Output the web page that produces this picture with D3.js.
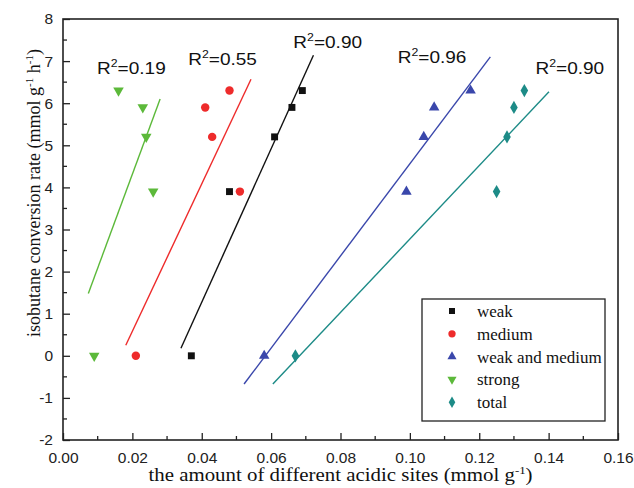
<!DOCTYPE html>
<html>
<head>
<meta charset="utf-8">
<script src="https://cdn.jsdelivr.net/npm/d3@7"></script>
<style>
  body { margin: 0; background: #fff; }
  svg { display: block; }
  .tick text { font-family: "Liberation Sans", Arial, sans-serif; font-size: 15.5px; fill: #222; }
</style>
</head>
<body>
<svg id="chart" width="634" height="488"></svg>
<script>
// Conversion rates shared by every series
const rates = [0, 3.9, 5.2, 5.9, 6.3];

// Acid site amounts (mmol/g) per series
const weakX = [0.037, 0.048, 0.061, 0.066, 0.069];
const mediumX = [0.021, 0.051, 0.043, 0.041, 0.048];
const weakMediumX = [0.058, 0.099, 0.104, 0.107, 0.1175];
const strongX = [0.009, 0.026, 0.024, 0.023, 0.016];
const totalX = [0.067, 0.125, 0.128, 0.130, 0.133];

// Linear fit end points [[x1, y1], [x2, y2]]
const weakFit = [[0.034, 0.18], [0.0722, 7.14]];
const mediumFit = [[0.0181, 0.25], [0.0542, 6.57]];
const weakMediumFit = [[0.0522, -0.67], [0.1232, 7.1]];
const strongFit = [[0.0073, 1.48], [0.028, 6.1]];
const totalFit = [[0.0605, -0.67], [0.1401, 6.27]];

// R squared labels and their anchor (data coords)
const r2Labels = ['0.90', '0.55', '0.96', '0.19', '0.90'];
const r2Pos = [[0.0664, 7.3], [0.0361, 6.9], [0.0965, 6.95], [0.0098, 6.7], [0.1362, 6.7]];

const seriesNames = ['weak', 'medium', 'weak and medium', 'strong', 'total'];
const xTicks = [0, 0.02, 0.04, 0.06, 0.08, 0.10, 0.12, 0.14, 0.16];
const yTicks = [-2, -1, 0, 1, 2, 3, 4, 5, 6, 7, 8];

(function() {
  const svg = d3.select('#chart');
  const margin = { top: 19, right: 16, bottom: 48, left: 63 };
  const width = 634 - margin.left - margin.right;
  const height = 488 - margin.top - margin.bottom;
  const serif = '"Liberation Serif", "Times New Roman", serif';
  const sans = '"Liberation Sans", Arial, sans-serif';

  const x = d3.scaleLinear().domain([0, 0.16]).range([0, width]);
  const y = d3.scaleLinear().domain([-2, 8]).range([height, 0]);

  const g = svg.append('g').attr('transform', `translate(${margin.left},${margin.top})`);

  const series = [
    { name: seriesNames[0], xs: weakX, fit: weakFit, color: '#111111', shape: d3.symbolSquare, size: 48, rot: 0 },
    { name: seriesNames[1], xs: mediumX, fit: mediumFit, color: '#ee2b2b', shape: d3.symbolCircle, size: 56, rot: 0 },
    { name: seriesNames[2], xs: weakMediumX, fit: weakMediumFit, color: '#3a47ab', shape: d3.symbolTriangle, size: 48, rot: 0 },
    { name: seriesNames[3], xs: strongX, fit: strongFit, color: '#5cb93a', shape: d3.symbolTriangle, size: 48, rot: 180 },
    { name: seriesNames[4], xs: totalX, fit: totalFit, color: '#1d8b87', shape: d3.symbolDiamond, size: 50, rot: 0 }
  ];
  const fitOrder = [3, 1, 0, 2, 4];

  // Axes with inward ticks
  const xAxis = d3.axisBottom(x).tickValues(xTicks).tickFormat(d3.format('.2f')).tickSizeInner(-7).tickSizeOuter(0).tickPadding(12);
  const yAxis = d3.axisLeft(y).tickValues(yTicks).tickFormat(d => String(d)).tickSizeInner(-7).tickSizeOuter(0).tickPadding(10);

  const gx = g.append('g').attr('transform', `translate(0,${height})`).call(xAxis);
  const gy = g.append('g').call(yAxis);
  [gx, gy].forEach(a => {
    a.select('.domain').remove();
    a.selectAll('.tick line').attr('stroke', '#222').attr('stroke-width', 1.3);
  });

  // Minor ticks
  g.append('g').selectAll('line')
    .data(d3.range(0.01, 0.16, 0.02))
    .enter().append('line')
    .attr('x1', d => x(d)).attr('x2', d => x(d))
    .attr('y1', height).attr('y2', height - 4)
    .attr('stroke', '#222').attr('stroke-width', 1.3);
  g.append('g').selectAll('line')
    .data(d3.range(-1.5, 8, 1))
    .enter().append('line')
    .attr('x1', 0).attr('x2', 4)
    .attr('y1', d => y(d)).attr('y2', d => y(d))
    .attr('stroke', '#222').attr('stroke-width', 1.3);

  // Frame
  g.append('rect')
    .attr('width', width).attr('height', height)
    .attr('fill', 'none').attr('stroke', '#222').attr('stroke-width', 1.6);

  // Fit lines
  fitOrder.forEach(i => {
    const s = series[i];
    g.append('line')
      .attr('x1', x(s.fit[0][0])).attr('y1', y(s.fit[0][1]))
      .attr('x2', x(s.fit[1][0])).attr('y2', y(s.fit[1][1]))
      .attr('stroke', s.color).attr('stroke-width', 1.4);
  });

  // Points
  series.forEach(s => {
    g.append('g').selectAll('path')
      .data(s.xs.map((v, k) => [v, rates[k]]))
      .enter().append('path')
      .attr('d', d3.symbol().type(s.shape).size(s.size))
      .attr('transform', d => `translate(${x(d[0])},${y(d[1])}) rotate(${s.rot})`)
      .attr('fill', s.color);
  });

  // R^2 labels (slightly wide lettering, like the original scan)
  r2Labels.forEach((lab, i) => {
    const t = g.append('text')
      .attr('transform', `translate(${x(r2Pos[i][0])},${y(r2Pos[i][1])}) scale(1.12,1)`)
      .style('font-family', sans).style('font-size', '17px').attr('fill', '#111');
    t.append('tspan').text('R');
    t.append('tspan').attr('dy', -7).style('font-size', '11px').text('2');
    t.append('tspan').attr('dy', 7).text('=' + lab);
  });

  // Legend
  const lg = svg.append('g').attr('transform', 'translate(422,299)');
  lg.append('rect').attr('width', 183).attr('height', 122)
    .attr('fill', '#fff').attr('stroke', '#222').attr('stroke-width', 1.3);
  series.forEach((s, i) => {
    const row = lg.append('g').attr('transform', `translate(0,${12 + i * 22.8})`);
    row.append('path')
      .attr('d', d3.symbol().type(s.shape).size(s.size * 0.75))
      .attr('transform', `translate(30,0) rotate(${s.rot})`)
      .attr('fill', s.color);
    row.append('text')
      .attr('x', 55).attr('y', 6)
      .style('font-family', serif)
      .style('font-size', '17px').attr('fill', '#111')
      .text(s.name);
  });

  // Axis titles
  const xt = svg.append('text')
    .attr('transform', `translate(${margin.left + width / 2},481) scale(1.16,1)`)
    .attr('text-anchor', 'middle')
    .style('font-family', serif).style('font-size', '18px').attr('fill', '#111');
  xt.append('tspan').text('the amount of different acidic sites (mmol g');
  xt.append('tspan').attr('dy', -7).style('font-size', '11px').text('-1');
  xt.append('tspan').attr('dy', 7).text(')');

  const yt = svg.append('text')
    .attr('transform', 'translate(40,193) rotate(-90)')
    .attr('text-anchor', 'middle')
    .style('font-family', serif).style('font-size', '18px').attr('fill', '#111');
  yt.append('tspan').text('isobutane conversion rate (mmol g');
  yt.append('tspan').attr('dy', -7).style('font-size', '11px').text('-1');
  yt.append('tspan').attr('dy', 7).text(' h');
  yt.append('tspan').attr('dy', -7).style('font-size', '11px').text('-1');
  yt.append('tspan').attr('dy', 7).text(')');
})();
</script>
</body>
</html>
